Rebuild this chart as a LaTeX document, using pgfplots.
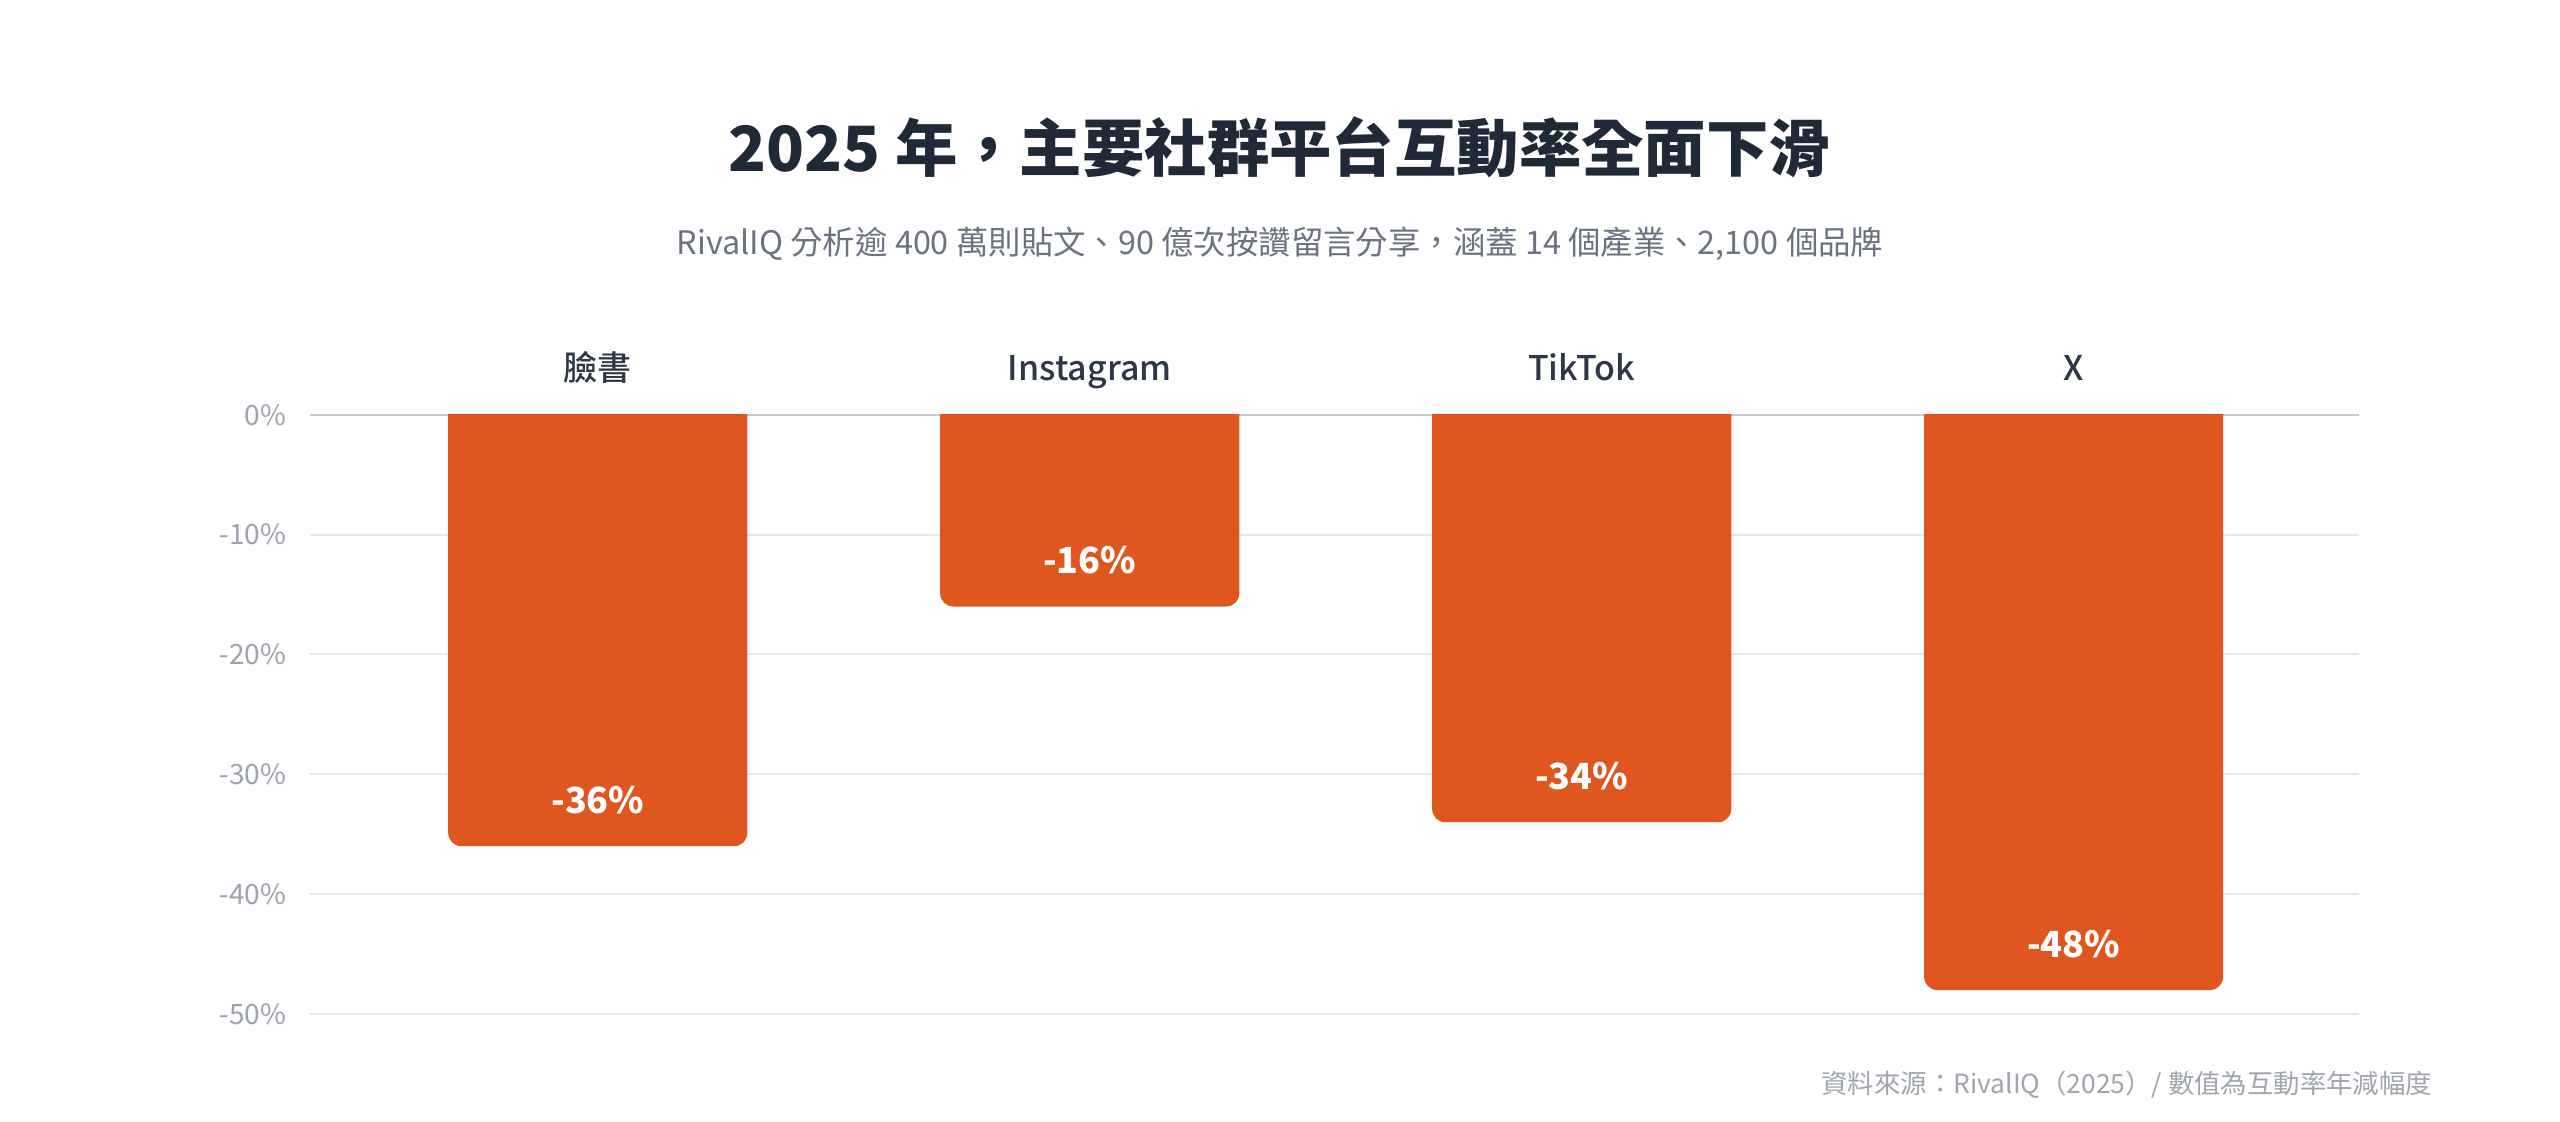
\documentclass[border=0pt]{standalone}
\usepackage{fontspec}
\setmainfont{Noto Sans CJK TC}
\newfontfamily\medfont{Noto Sans CJK TC}[UprightFont=* Medium]
\newfontfamily\valfont{Noto Sans CJK TC}[UprightFont=* Black]
\usepackage{pgfplots}
\pgfplotsset{compat=1.18}
\definecolor{barc}{HTML}{E0561F}
\definecolor{titlec}{HTML}{1F2937}
\definecolor{subc}{HTML}{6B7280}
\definecolor{catc}{HTML}{2D3748}
\definecolor{tickc}{HTML}{9CA3AF}
\definecolor{footc}{HTML}{A0A5AD}
\definecolor{gridc}{HTML}{E5E7EB}
\definecolor{zeroc}{HTML}{C8CBD0}
\begin{document}
\begin{tikzpicture}
\useasboundingbox (0,0) rectangle (640pt,280.5pt);
\node[anchor=base, inner sep=0pt, font=\fontsize{15.6}{18}\selectfont\bfseries, text=titlec] at (320pt,237.6pt) {2025 年，主要社群平台互動率全面下滑};
\node[anchor=base, inner sep=0pt, font=\fontsize{8.1}{10}\selectfont, text=subc] at (320pt,216.8pt) {RivalIQ 分析逾 400 萬則貼文、90 億次按讚留言分享，涵蓋 14 個產業、2,100 個品牌};
\node[anchor=base east, inner sep=0pt, font=\fontsize{6.6}{8}\selectfont, text=footc] at (608.2pt,7pt) {資料來源：RivalIQ（2025）/ 數值為互動率年減幅度};
\begin{axis}[
  at={(77.5pt,27pt)}, anchor=south west,
  scale only axis, width=512.25pt, height=149.8pt,
  xmin=-0.585, xmax=3.58, ymin=-50, ymax=0,
  axis line style={draw=none},
  major tick length=0pt,
  ytick={-50,-40,-30,-20,-10,0},
  yticklabels={-50\%,-40\%,-30\%,-20\%,-10\%,0\%},
  ymajorgrids,
  grid style={color=gridc, line width=0.5pt},
  extra y ticks={0}, extra y tick labels={},
  extra y tick style={grid style={color=zeroc, line width=0.6pt}},
  xtick={0,1,2,3},
  xticklabels={臉書,Instagram,TikTok,X},
  xticklabel pos=upper,
  xticklabel style={anchor=base, inner sep=0pt, yshift=8.5pt, font=\medfont\fontsize{8.5}{10}\selectfont, text=catc},
  yticklabel style={anchor=east, inner sep=0pt, xshift=-5.8pt, font=\fontsize{7}{8}\selectfont, text=tickc},
  clip=true,
]
\addplot[fill=barc, draw=none, rounded corners=3.3pt] coordinates {(-0.304,2) (-0.304,-36) (0.304,-36) (0.304,2)} -- cycle;
\addplot[fill=barc, draw=none, rounded corners=3.3pt] coordinates {(0.696,2) (0.696,-16) (1.304,-16) (1.304,2)} -- cycle;
\addplot[fill=barc, draw=none, rounded corners=3.3pt] coordinates {(1.696,2) (1.696,-34) (2.304,-34) (2.304,2)} -- cycle;
\addplot[fill=barc, draw=none, rounded corners=3.3pt] coordinates {(2.696,2) (2.696,-48) (3.304,-48) (3.304,2)} -- cycle;
\addplot[draw=none, mark=none, nodes near coords, point meta=explicit symbolic,
  nodes near coords style={font=\valfont\fontsize{9}{10}\selectfont, text=white, anchor=base, inner sep=0pt, yshift=8.2pt}]
  coordinates {(0,-36) [-36\%] (1,-16) [-16\%] (2,-34) [-34\%] (3,-48) [-48\%]};
\end{axis}
\end{tikzpicture}
\end{document}
